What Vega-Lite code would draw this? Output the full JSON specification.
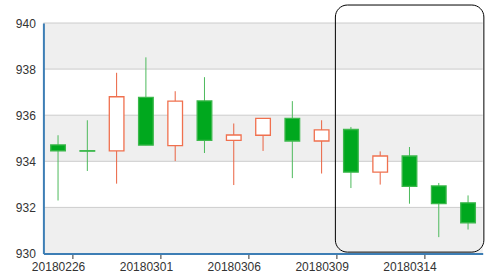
{
  "$schema": "https://vega.github.io/schema/vega-lite/v6.json",
  "width": 439.3,
  "height": 230.5,
  "autosize": {"type": "none"},
  "padding": {"left": 43.4, "top": 23, "right": 6.3, "bottom": 21.5},
  "background": "white",
  "config": {"view": {"stroke": null}, "font": "Liberation Sans"},
  "datasets": {
    "kline": [
      {"date": "20180226", "open": 934.71, "close": 934.45, "high": 935.13, "low": 932.30},
      {"date": "20180227", "open": 934.46, "close": 934.44, "high": 935.78, "low": 933.58},
      {"date": "20180228", "open": 934.45, "close": 936.80, "high": 937.84, "low": 933.03},
      {"date": "20180301", "open": 936.77, "close": 934.70, "high": 938.51, "low": 934.70},
      {"date": "20180302", "open": 934.68, "close": 936.61, "high": 937.04, "low": 934.01},
      {"date": "20180305", "open": 936.62, "close": 934.91, "high": 937.65, "low": 934.36},
      {"date": "20180306", "open": 934.91, "close": 935.14, "high": 935.64, "low": 932.97},
      {"date": "20180307", "open": 935.13, "close": 935.86, "high": 935.86, "low": 934.45},
      {"date": "20180308", "open": 935.86, "close": 934.88, "high": 936.61, "low": 933.27},
      {"date": "20180309", "open": 934.88, "close": 935.36, "high": 935.78, "low": 933.47},
      {"date": "20180312", "open": 935.38, "close": 933.53, "high": 935.49, "low": 932.84},
      {"date": "20180313", "open": 933.53, "close": 934.23, "high": 934.43, "low": 932.99},
      {"date": "20180314", "open": 934.23, "close": 932.91, "high": 934.62, "low": 932.16},
      {"date": "20180315", "open": 932.93, "close": 932.16, "high": 933.06, "low": 930.71},
      {"date": "20180316", "open": 932.20, "close": 931.33, "high": 932.52, "low": 931.04}
    ],
    "bands": [
      {"lo": 938, "hi": 940},
      {"lo": 934, "hi": 936},
      {"lo": 930, "hi": 932}
    ],
    "grid": [
      {"v": 932}, {"v": 934}, {"v": 936}, {"v": 938}, {"v": 940}
    ]
  },
  "layer": [
    {
      "layer": [
        {
          "data": {"name": "bands"},
          "mark": {"type": "rect", "fill": "#efefef"},
          "encoding": {
            "y": {
              "field": "lo", "type": "quantitative",
              "scale": {"domain": [930, 940], "nice": false, "zero": false},
              "axis": {
                "title": null, "values": [930, 932, 934, 936, 938, 940],
                "grid": false, "zindex": 1,
                "ticks": false, "labelPadding": 8, "labelFontSize": 12,
                "labelColor": "#333333", "domainColor": "#3d7eb5", "domainWidth": 2
              }
            },
            "y2": {"field": "hi"}
          }
        },
        {
          "data": {"name": "grid"},
          "mark": {"type": "rule", "stroke": "#cccccc", "strokeWidth": 1},
          "encoding": {
            "y": {"field": "v", "type": "quantitative", "scale": {"domain": [930, 940]}}
          }
        },
        {
          "data": {"name": "kline"},
          "mark": {"type": "rule", "strokeWidth": 1},
          "encoding": {
            "x": {
              "field": "date", "type": "ordinal", "sort": null,
              "scale": {"paddingInner": 0, "paddingOuter": 0},
              "axis": {
                "title": null, "zindex": 1,
                "values": ["20180226", "20180301", "20180306", "20180309", "20180314"],
                "tickOffset": 14.65, "labelOffset": -14.65, "labelAngle": 0,
                "tickColor": "#333333", "tickSize": 5, "labelPadding": 3,
                "labelFontSize": 12, "labelColor": "#333333",
                "domainColor": "#3d7eb5", "domainWidth": 2, "grid": false
              }
            },
            "y": {"field": "low", "type": "quantitative", "scale": {"domain": [930, 940]}},
            "y2": {"field": "high"},
            "color": {
              "condition": {"test": "datum.close > datum.open", "value": "#ea6240"},
              "value": "#4dba5c"
            }
          }
        },
        {
          "data": {"name": "kline"},
          "mark": {"type": "bar", "strokeWidth": 1.3, "width": {"band": 0.5}},
          "encoding": {
            "x": {"field": "date", "type": "ordinal", "sort": null},
            "y": {"field": "open", "type": "quantitative", "scale": {"domain": [930, 940]}},
            "y2": {"field": "close"},
            "fill": {
              "condition": {"test": "datum.close > datum.open", "value": "#ffffff"},
              "value": "#00a81e"
            },
            "stroke": {
              "condition": {"test": "datum.close > datum.open", "value": "#f0704e"},
              "value": "#3cb84c"
            }
          }
        }
      ]
    },
    {
      "data": {"values": [{}]},
      "mark": {"type": "rect", "fill": "transparent", "stroke": "#000000", "strokeWidth": 1, "cornerRadius": 12},
      "encoding": {
        "x": {"datum": 9.97, "type": "quantitative", "scale": {"domain": [0, 15], "nice": false, "zero": false}, "axis": null},
        "x2": {"datum": 15.04},
        "y": {"datum": 940.78, "type": "quantitative", "scale": {"domain": [930, 940]}},
        "y2": {"datum": 930.06}
      }
    }
  ],
  "resolve": {"scale": {"x": "independent"}}
}
